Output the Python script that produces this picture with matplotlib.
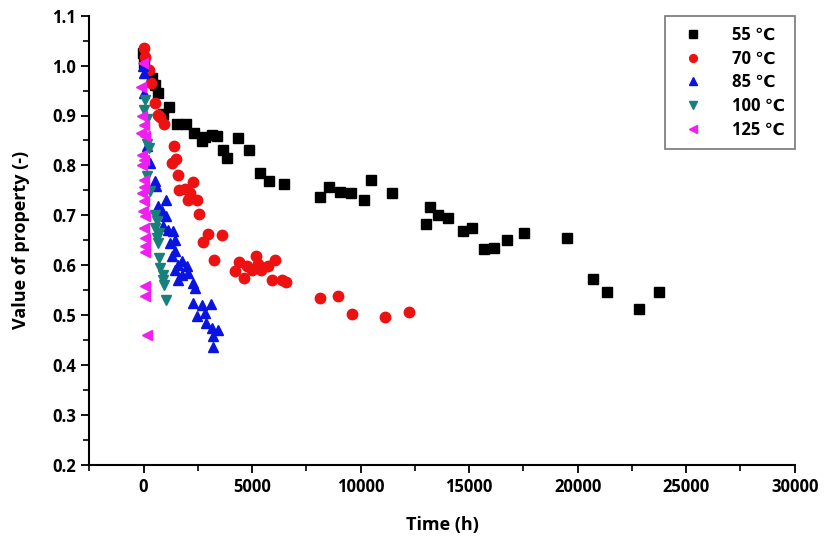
import matplotlib
matplotlib.use("Agg")
import matplotlib.pyplot as plt
from matplotlib.ticker import MultipleLocator

plt.rcParams['font.family'] = ['Open Sans', 'DejaVu Sans']
plt.rcParams['font.weight'] = 'bold'

# 55 C
t55 = [-30, 0, 380, 535, 656, 917, 1193, 1560, 1942, 2340, 2675, 2830, 3133, 3380, 3670, 3839,
       4358, 4848, 5352, 5795, 6468, 8150, 8532, 9036, 9540, 10153, 10475, 11454, 13013, 13196,
       13563, 14037, 14710, 15152, 15702, 16147, 16729, 17509, 19495, 20688, 21360, 22828, 23746]
v55 = [1.025, 1.005, 0.975, 0.962, 0.946, 0.904, 0.918, 0.882, 0.882, 0.864, 0.849, 0.857, 0.860, 0.858, 0.830, 0.814,
       0.854, 0.831, 0.785, 0.768, 0.763, 0.737, 0.756, 0.747, 0.744, 0.730, 0.771, 0.744, 0.682, 0.716,
       0.701, 0.694, 0.668, 0.675, 0.632, 0.634, 0.651, 0.665, 0.654, 0.573, 0.546, 0.513, 0.546]

# 70 C
t70 = [0, 76, 260, 352, 505, 642, 765, 963, 1408, 1482, 1298, 1606, 2294, 1638, 1913, 2142, 2064, 2445,
       2569, 2982, 3624, 2720, 3225, 4404, 5168, 4234, 4618, 4784, 5000, 5275, 5427, 5734, 6069, 5917,
       6390, 6573, 8119, 8945, 9601, 11101, 12248]
v70 = [1.035, 1.018, 0.992, 0.965, 0.926, 0.902, 0.897, 0.882, 0.839, 0.813, 0.805, 0.780, 0.767, 0.751, 0.753, 0.745, 0.730, 0.730,
       0.703, 0.662, 0.661, 0.647, 0.611, 0.606, 0.619, 0.588, 0.574, 0.598, 0.590, 0.602, 0.590, 0.599, 0.611, 0.570,
       0.570, 0.566, 0.534, 0.539, 0.502, 0.497, 0.507]

# 85 C
t85 = [-20, 40, 0, 151, 307, 505, 564, 1023, 656, 839, 1023, 885, 1147, 1344, 1454, 1224, 1454, 1298, 1789, 1606,
       1987, 1454, 1757, 2064, 1606, 2294, 2371, 2294, 2675, 3105, 2463, 2830, 2876, 3165, 3408, 3211, 3211]
v85 = [1.000, 0.985, 0.945, 0.838, 0.805, 0.768, 0.758, 0.730, 0.718, 0.708, 0.698, 0.678, 0.671, 0.668, 0.651, 0.645, 0.628, 0.618, 0.608, 0.601,
       0.598, 0.591, 0.581, 0.584, 0.571, 0.564, 0.554, 0.524, 0.521, 0.523, 0.498, 0.504, 0.484, 0.474, 0.471, 0.459, 0.437]

# 100 C
t100 = [46, 0, 151, 151, 229, 151, 307, 535, 612, 535, 688, 612, 656, 720, 765, 872, 917, 963, 1040]
v100 = [0.932, 0.912, 0.892, 0.842, 0.835, 0.779, 0.748, 0.701, 0.688, 0.675, 0.665, 0.655, 0.645, 0.615, 0.594, 0.581, 0.571, 0.561, 0.530]

# 125 C
t125 = [-30, -120, -80, 0, -100, 50, -80, 0, -80, 20, 0, -80, 20, -40, 80, 20, 80, 60, 80, 60, 80, 150]
v125 = [1.005, 0.958, 0.898, 0.880, 0.865, 0.858, 0.821, 0.810, 0.800, 0.771, 0.757, 0.745, 0.728, 0.708, 0.698, 0.675, 0.655, 0.638, 0.627, 0.558, 0.538, 0.461]

labels = ['55 \u2103', '70 \u2103', '85 \u2103', '100 \u2103', '125 \u2103']

fig = plt.figure(figsize=(8.27, 5.40), dpi=100)
ax = fig.add_axes([0.108, 0.139, 0.853, 0.832])

ms = 7.5
ax.plot(t55, v55, 's', color='black', ms=ms, label=labels[0], zorder=3)
ax.plot(t70, v70, 'o', color='#ee1111', ms=ms, label=labels[1], zorder=3)
ax.plot(t85, v85, '^', color='#0a14e0', ms=ms, label=labels[2], zorder=3)
ax.plot(t100, v100, 'v', color='#17807a', ms=ms, label=labels[3], zorder=3)
ax.plot(t125, v125, '<', color='#f01ef0', ms=ms, label=labels[4], zorder=4)

ax.set_xlim(-2500, 30000)
ax.set_ylim(0.2, 1.1)
ax.xaxis.set_major_locator(MultipleLocator(5000))
ax.xaxis.set_minor_locator(MultipleLocator(2500))
ax.yaxis.set_major_locator(MultipleLocator(0.1))
ax.yaxis.set_minor_locator(MultipleLocator(0.05))
ax.yaxis.set_major_formatter(matplotlib.ticker.FormatStrFormatter('%.1f'))

for s in ['top', 'right']:
    ax.spines[s].set_visible(False)
for s in ['left', 'bottom']:
    ax.spines[s].set_linewidth(1.5)
ax.tick_params(which='major', direction='out', length=6, width=1.3, labelsize=12)
ax.tick_params(which='minor', direction='out', length=4, width=1.2)
for lbl in ax.get_xticklabels() + ax.get_yticklabels():
    lbl.set_fontweight('bold')

ax.set_xlabel('Time (h)', fontsize=13, fontweight='bold', labelpad=14)
ax.set_ylabel('Value of property (-)', fontsize=13, fontweight='bold', labelpad=16)

leg = ax.legend(loc='upper right', bbox_to_anchor=(1.0, 1.0), frameon=True, fancybox=False,
                edgecolor='#555555', fontsize=12, markerscale=0.75, handletextpad=1.2,
                borderpad=0.6, labelspacing=0.35, handlelength=2.2, borderaxespad=0.0)
leg.get_frame().set_linewidth(1.2)
for t in leg.get_texts():
    t.set_fontweight('bold')

fig.savefig('out.png', dpi=100)
